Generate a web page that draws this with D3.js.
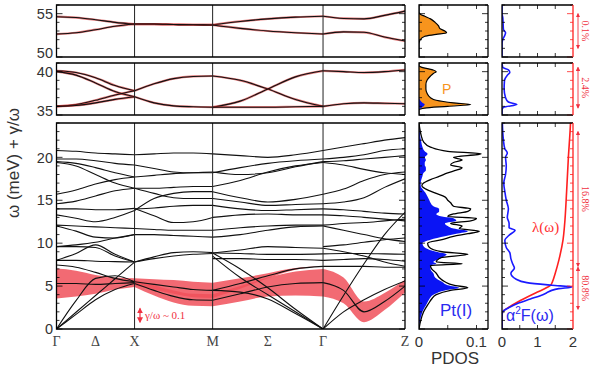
<!DOCTYPE html>
<html>
<head>
<meta charset="utf-8">
<script src="https://cdn.jsdelivr.net/npm/d3@7"></script>
<style>
  body { margin: 0; background: #fff; }
  svg { display: block; font-family: "Liberation Sans", Arial, sans-serif; }
</style>
</head>
<body>
<svg width="594" height="368"></svg>
<script>
// ---------- data ----------
// high-symmetry path, distances in units of 2pi/a
const kNodes = [0, 1, 2, 2 + Math.SQRT2, 2 + Math.SQRT2 + 1.05];
const kLabels = ["Γ", "Δ", "X", "M", "Σ", "Γ", "Z"];
const kLabelPos = [0, 0.5, 1, 2, 2 + Math.SQRT2 / 2, 2 + Math.SQRT2, 2 + Math.SQRT2 + 1.05];
// fractional positions along each segment where band energies are read
const tSamples = [0, 0.25, 0.5, 0.75, 1];

// phonon branches (meV) on each segment
const bandsGX = [
  [54.65, 54.55, 54.3, 54.0, 53.8], [52.65, 52.8, 53.15, 53.55, 53.8],
  [40.1, 39.9, 39.3, 38.4, 37.8], [40.0, 39.6, 38.7, 37.7, 37.1],
  [36.0, 36.2, 36.7, 37.3, 37.8], [36.0, 36.1, 36.4, 36.8, 37.1],
  [20.8, 20.7, 20.5, 20.4, 20.3], [19.8, 19.8, 19.6, 19.3, 19.1],
  [19.5, 19.3, 18.8, 18.2, 17.7], [19.4, 19.0, 18.0, 17.0, 16.4],
  [15.7, 16.2, 16.9, 17.4, 17.7], [14.6, 14.9, 15.5, 16.1, 16.4],
  [14.0, 14.0, 13.9, 13.9, 14.05], [13.3, 12.9, 12.5, 13.0, 13.8],
  [12.1, 12.0, 11.9, 11.8, 11.7], [12.0, 11.4, 10.7, 10.6, 11.0],
  [9.6, 9.8, 10.1, 10.6, 11.0], [8.0, 8.8, 9.8, 8.7, 7.8],
  [9.6, 9.6, 9.5, 8.5, 7.8], [8.0, 8.0, 7.9, 7.85, 7.8],
  [7.45, 7.2, 6.6, 5.9, 5.5], [5.3, 5.3, 5.2, 5.3, 5.4],
  [0, 3.3, 5.9, 6.2, 5.5], [0, 1.7, 3.4, 4.6, 5.3], [0, 1.95, 3.9, 5.85, 7.8]
];
const bandsXM = [
  [53.8, 53.8, 53.75, 53.72, 53.7], [53.8, 53.8, 53.75, 53.72, 53.7],
  [37.8, 38.6, 39.2, 39.45, 39.5], [37.1, 36.4, 36.05, 35.95, 35.9],
  [20.3, 20.4, 20.5, 20.5, 20.4], [19.1, 18.7, 18.3, 18.2, 18.2],
  [17.7, 17.9, 18.1, 18.2, 18.3], [16.4, 16.4, 16.5, 16.6, 16.6],
  [13.8, 15.2, 15.8, 16.0, 16.0], [16.4, 15.8, 15.3, 15.2, 15.2],
  [14.05, 13.2, 12.4, 12.5, 13.0], [14.0, 14.1, 14.3, 14.4, 14.4],
  [11.7, 11.6, 11.5, 11.5, 11.5], [11.0, 11.0, 10.9, 10.8, 10.7],
  [7.8, 8.4, 8.9, 9.0, 8.9], [7.8, 8.2, 8.5, 8.7, 8.8],
  [5.5, 5.2, 4.9, 4.6, 4.5], [5.3, 4.5, 3.8, 3.4, 3.35]
];
const bandsMG = [
  [53.7, 54.1, 54.4, 54.6, 54.7], [53.7, 53.3, 53.0, 52.8, 52.65],
  [39.5, 39.0, 38.0, 36.8, 36.0], [35.9, 36.6, 38.0, 39.4, 40.1],
  [35.9, 35.9, 35.9, 35.95, 36.0],
  [20.4, 20.2, 20.0, 20.3, 20.8], [18.2, 18.8, 19.3, 19.6, 19.8],
  [18.3, 18.0, 18.2, 18.9, 19.5], [16.6, 17.3, 18.3, 19.0, 19.4],
  [16.0, 15.3, 14.8, 15.1, 15.7], [15.2, 14.8, 14.4, 14.5, 14.6],
  [14.4, 14.0, 13.8, 13.9, 14.0], [13.0, 13.3, 13.4, 13.3, 13.3],
  [11.5, 11.8, 12.0, 12.1, 12.1], [10.7, 11.0, 11.5, 11.9, 12.0],
  [8.85, 9.2, 9.6, 9.5, 9.4], [8.85, 8.8, 8.7, 8.7, 8.75],
  [8.2, 8.2, 8.1, 8.1, 8.0], [8.85, 7.0, 4.8, 2.3, 0],
  [8.5, 6.0, 4.0, 2.0, 0], [4.5, 5.3, 6.2, 7.0, 7.3],
  [3.35, 4.1, 4.9, 5.3, 5.4], [4.5, 4.3, 3.5, 1.8, 0]
];
const bandsGZ = [
  [54.7, 54.45, 54.4, 54.8, 55.3], [52.65, 52.9, 52.85, 52.3, 51.85],
  [40.1, 40.0, 39.9, 40.0, 40.2], [36.0, 36.3, 36.4, 36.35, 36.3],
  [20.8, 21.2, 21.6, 22.0, 22.3], [19.8, 20.0, 20.3, 20.8, 21.0],
  [19.5, 19.6, 19.8, 20.0, 20.2], [19.4, 19.1, 18.6, 18.2, 18.0],
  [15.7, 16.3, 17.3, 18.0, 18.3], [14.6, 14.8, 15.3, 16.5, 17.5],
  [14.0, 13.9, 13.7, 13.5, 13.4], [13.3, 13.2, 13.0, 12.8, 12.6],
  [12.1, 12.3, 12.4, 12.6, 12.8], [12.0, 11.5, 11.0, 10.5, 10.2],
  [9.6, 9.8, 10.1, 10.4, 10.6], [9.4, 9.0, 8.5, 7.8, 7.3],
  [8.75, 8.8, 8.8, 8.75, 8.7], [8.0, 8.1, 8.2, 8.1, 7.9],
  [7.3, 7.3, 7.3, 7.2, 7.2], [5.4, 4.5, 2.0, 3.2, 5.0],
  [0, 3.9, 7.6, 11.0, 13.6], [0, 2.0, 3.4, 4.6, 5.6]
];
const segmentBands = [bandsGX, bandsXM, bandsMG, bandsGZ];

// phonon linewidth gamma/omega drawn as half-width (meV) around a branch
const fatBands = [
  { seg: 0, omega: [5.3, 5.3, 5.2, 5.3, 5.4], half: [1.75, 1.5, 1.1, 0.7, 0.5] },
  { seg: 1, omega: [5.5, 5.2, 4.9, 4.6, 4.5], half: [0.4, 0.6, 0.8, 0.9, 0.9] },
  { seg: 1, omega: [5.3, 4.5, 3.8, 3.4, 3.35], half: [0.4, 0.6, 0.7, 0.7, 0.7] },
  { seg: 2, omega: [3.35, 4.1, 4.9, 5.3, 5.4], half: [0.7, 0.9, 1.1, 1.4, 1.6] },
  { seg: 2, omega: [4.5, 5.3, 6.2, 7.0, 7.3], half: [0.9, 0.6, 0.3, 0.1, 0] },
  { seg: 3, omega: [5.4, 4.5, 2.0, 3.2, 5.0], half: [1.6, 1.5, 1.2, 1.0, 0.75] }
];

// projected DOS (states/meV)
const pdosTopW = [50, 51.5, 52.0, 52.4, 52.6, 52.8, 53.0, 53.3, 53.6, 54.0, 54.4, 54.7, 54.9, 55.2, 56];
const pdosTopP = [0, 0, 0.002, 0.01, 0.03, 0.048, 0.045, 0.036, 0.034, 0.028, 0.02, 0.01, 0.003, 0, 0];
const pdosMidW = [35, 35.6, 35.8, 36.0, 36.2, 36.4, 36.7, 37.0, 37.5, 38.0, 38.5, 39.0, 39.5, 39.8, 40.0, 40.2, 40.5, 40.7, 41];
const pdosMidP = [0, 0, 0.01, 0.05, 0.09, 0.06, 0.03, 0.02, 0.014, 0.012, 0.012, 0.014, 0.02, 0.025, 0.03, 0.024, 0.005, 0, 0];
const pdosMidPt = [0, 0, 0.004, 0.008, 0.01, 0.006, 0.002, 0, 0, 0, 0, 0, 0, 0, 0, 0, 0, 0, 0];
const pdosBotW = [0, 1, 2, 3, 3.5, 4, 4.5, 4.8, 5.1, 5.5, 6, 6.5, 7, 7.4, 7.6, 7.8, 8.3, 8.7, 9.0, 9.5,
  10, 10.4, 10.8, 11.1, 11.4, 11.7, 12.0, 12.3, 12.6, 12.9, 13.1, 13.4, 13.7, 14.0, 14.3, 14.7, 15.0, 15.4, 15.8,
  16.3, 16.7, 17.0, 17.4, 17.8, 18.2, 18.5, 18.8, 19.1, 19.4, 19.7, 20.0, 20.4, 20.7, 21.2, 21.8, 22.5, 23.5, 24];
const pdosBotTot = [0, 0.003, 0.008, 0.017, 0.022, 0.03, 0.055, 0.085, 0.06, 0.045, 0.035, 0.03, 0.022, 0.02, 0.075, 0.03, 0.038, 0.085, 0.04, 0.018,
  0.015, 0.04, 0.06, 0.085, 0.105, 0.07, 0.075, 0.055, 0.09, 0.1, 0.05, 0.06, 0.085, 0.09, 0.06, 0.055, 0.05, 0.045, 0.03,
  0.012, 0.005, 0.008, 0.02, 0.036, 0.05, 0.065, 0.075, 0.055, 0.06, 0.075, 0.06, 0.108, 0.05, 0.02, 0.008, 0.004, 0.001, 0];
const pdosBotPt = [0, 0.002, 0.006, 0.014, 0.018, 0.025, 0.045, 0.07, 0.05, 0.04, 0.028, 0.025, 0.02, 0.02, 0.03, 0.025, 0.04, 0.048, 0.03, 0.01,
  0.006, 0.02, 0.045, 0.065, 0.085, 0.06, 0.05, 0.045, 0.065, 0.06, 0.04, 0.03, 0.035, 0.035, 0.025, 0.02, 0.018, 0.015, 0.012,
  0.006, 0.003, 0.003, 0.004, 0.006, 0.008, 0.012, 0.012, 0.01, 0.01, 0.012, 0.01, 0.015, 0.01, 0.006, 0.004, 0.002, 0.001, 0];

// Eliashberg function and cumulative coupling
const a2fTopW = [50, 51.5, 52, 52.5, 52.8, 53.2, 54, 54.6, 55, 56];
const a2fTop = [0, 0, 0.02, 0.08, 0.1, 0.04, 0.03, 0.02, 0, 0];
const a2fMidW = [35, 35.6, 35.9, 36.2, 36.5, 37, 38, 39, 39.6, 39.9, 40.2, 40.5, 41];
const a2fMid = [0, 0, 0.05, 0.42, 0.18, 0.1, 0.06, 0.07, 0.15, 0.22, 0.18, 0.02, 0];
const a2fBotW = [0, 1.5, 2.0, 2.5, 3.0, 3.5, 4.0, 4.3, 4.5, 4.7, 4.9, 5.1, 5.4, 5.8, 6.5, 7.1, 7.6, 8.2, 8.9, 9.5,
  10.3, 11.0, 11.5, 11.8, 12.3, 13, 14, 15, 16, 17, 18, 19, 20, 20.5, 21, 22, 23, 24];
const a2fBot = [0, 0, 0.02, 0.2, 0.45, 0.8, 1.15, 1.3, 1.4, 1.6, 1.97, 1.4, 0.7, 0.4, 0.25, 0.35, 0.3, 0.25, 0.22, 0.12,
  0.08, 0.22, 0.37, 0.2, 0.2, 0.15, 0.18, 0.12, 0.08, 0.05, 0.1, 0.12, 0.1, 0.15, 0.08, 0.04, 0.02, 0.01];
const lambdaW = [0, 1.5, 2.0, 2.6, 3.0, 3.7, 4.3, 4.8, 5.1, 5.5, 6.5, 8, 10.4, 12, 16, 20, 23.2, 24];
const lambdaV = [0, 0, 0.02, 0.22, 0.38, 0.7, 1.0, 1.25, 1.37, 1.42, 1.5, 1.6, 1.72, 1.76, 1.82, 1.87, 1.92, 1.93];

// share of lambda from each frequency window
const lambdaShares = [
  { label: "0.1%", from: 51, to: 55 },
  { label: "2.4%", from: 35.8, to: 40.5 },
  { label: "16.8%", from: 23, to: 7.3 },
  { label: "80.8%", from: 7.2, to: 2.3 }
];

// ---------- layout ----------
const svg = d3.select("svg");
const panels = [
  { domain: [50, 56], top: 5, bottom: 57, labels: [50, 55] },
  { domain: [35, 41], top: 63, bottom: 115, labels: [35, 40] },
  { domain: [0, 24], top: 123, bottom: 329, labels: [0, 5, 10, 15, 20] }
];
panels.forEach(p => {
  p.y = d3.scaleLinear().domain(p.domain).range([p.bottom, p.top]);
});

const xBand = d3.scaleLinear().domain([0, kNodes[4]]).range([56.5, 405]);
const xDos = d3.scaleLinear().domain([0, 0.12]).range([419, 488]);
const xA2f = d3.scaleLinear().domain([0, 2]).range([502, 573]);

const red = "#f0505a";
const axisCol = "#333";

const defs = svg.append("defs");
panels.forEach((p, i) => {
  [["b", xBand], ["d", xDos], ["a", xA2f]].forEach(([key, xs]) => {
    defs.append("clipPath").attr("id", `clip-${key}${i}`)
      .append("rect")
      .attr("x", xs.range()[0]).attr("y", p.top)
      .attr("width", xs.range()[1] - xs.range()[0])
      .attr("height", p.bottom - p.top);
  });
});

// frame + inward ticks for one box
function drawFrame(xs, p, xTicks, rightColor) {
  const g = svg.append("g");
  const [x0, x1] = xs.range();
  d3.range(Math.ceil(p.domain[0]), p.domain[1] + 0.001, 1).forEach(v => {
    const len = v % 5 === 0 ? 6 : 3;
    const yy = p.y(v);
    g.append("line").attr("x1", x0).attr("x2", x0 + len).attr("y1", yy).attr("y2", yy)
      .attr("stroke", "#000").attr("stroke-width", 0.8);
    g.append("line").attr("x1", x1).attr("x2", x1 - len).attr("y1", yy).attr("y2", yy)
      .attr("stroke", rightColor || "#000").attr("stroke-width", 0.8);
  });
  xTicks.forEach(v => {
    const xx = xs(v);
    g.append("line").attr("x1", xx).attr("x2", xx).attr("y1", p.top).attr("y2", p.top + 4)
      .attr("stroke", "#000").attr("stroke-width", 0.8);
    g.append("line").attr("x1", xx).attr("x2", xx).attr("y1", p.bottom).attr("y2", p.bottom - 4)
      .attr("stroke", "#000").attr("stroke-width", 0.8);
  });
  g.append("path")
    .attr("d", `M${x1},${p.top}H${x0}V${p.bottom}H${x1}`)
    .attr("fill", "none").attr("stroke", "#000").attr("stroke-width", 1.3);
  g.append("line").attr("x1", x1).attr("x2", x1).attr("y1", p.top).attr("y2", p.bottom)
    .attr("stroke", rightColor || "#000").attr("stroke-width", 1.3);
}

// ---------- band structure ----------
function kAt(seg, t) {
  return kNodes[seg] + t * (kNodes[seg + 1] - kNodes[seg]);
}

panels.forEach((p, i) => {
  const g = svg.append("g").attr("clip-path", `url(#clip-b${i})`);

  // linewidth shading
  if (i === 2) {
    fatBands.forEach(f => {
      const area = d3.area()
        .x((d, j) => xBand(kAt(f.seg, tSamples[j])))
        .y0((d, j) => p.y(d - f.half[j]))
        .y1((d, j) => p.y(d + f.half[j]))
        .curve(d3.curveMonotoneX);
      g.append("path").attr("d", area(f.omega))
        .attr("fill", red).attr("fill-opacity", 0.85);
    });
  }

  segmentBands.forEach((bands, s) => {
    const line = d3.line()
      .x((d, j) => xBand(kAt(s, tSamples[j])))
      .y(d => p.y(d))
      .curve(d3.curveMonotoneX);
    bands.forEach(b => {
      if (i < 2) {
        g.append("path").attr("d", line(b)).attr("fill", "none")
          .attr("stroke", "#d02020").attr("stroke-width", 2.2).attr("stroke-opacity", 0.6);
      }
      g.append("path").attr("d", line(b)).attr("fill", "none")
        .attr("stroke", "#111").attr("stroke-width", 1.1);
    });
  });

  // high-symmetry verticals
  [1, 2, 3].forEach(n => {
    svg.append("line").attr("x1", xBand(kNodes[n])).attr("x2", xBand(kNodes[n]))
      .attr("y1", p.top).attr("y2", p.bottom).attr("stroke", "#222").attr("stroke-width", 1);
  });

  drawFrame(xBand, p, []);

  // left tick labels (bottom label of the two upper boxes sits just above the frame)
  p.labels.forEach((v, j) => {
    const lift = (i < 2 && j === 0) ? -4 : 0;
    svg.append("text").attr("x", 53).attr("y", p.y(v) + lift).attr("dy", "0.36em")
      .attr("text-anchor", "end").attr("font-size", 14.5).attr("fill", axisCol).text(v);
  });
});

// ---------- PDOS ----------
function vArea(xs, ys, w, v) {
  return d3.area()
    .y((d, j) => ys(w[j]))
    .x0(xs(0))
    .x1(d => xs(d))
    .curve(d3.curveMonotoneY)(v);
}
function vLine(xs, ys, w, v) {
  return d3.line()
    .y((d, j) => ys(w[j]))
    .x(d => xs(d))
    .curve(d3.curveMonotoneY)(v);
}

const orange = "#f7941d";
const blue = "#0a14f5";

// top
let gd = svg.append("g").attr("clip-path", "url(#clip-d0)");
gd.append("path").attr("d", vArea(xDos, panels[0].y, pdosTopW, pdosTopP)).attr("fill", orange);
gd.append("path").attr("d", vLine(xDos, panels[0].y, pdosTopW, pdosTopP)).attr("fill", "none").attr("stroke", "#000").attr("stroke-width", 1.2);
drawFrame(xDos, panels[0], [0.05, 0.1]);
// middle
gd = svg.append("g").attr("clip-path", "url(#clip-d1)");
gd.append("path").attr("d", vArea(xDos, panels[1].y, pdosMidW, pdosMidP)).attr("fill", orange);
gd.append("path").attr("d", vArea(xDos, panels[1].y, pdosMidW, pdosMidPt)).attr("fill", blue);
gd.append("path").attr("d", vLine(xDos, panels[1].y, pdosMidW, pdosMidP)).attr("fill", "none").attr("stroke", "#000").attr("stroke-width", 1.2);
drawFrame(xDos, panels[1], [0.05, 0.1]);
svg.append("text").attr("x", 442).attr("y", 94).attr("font-size", 14).attr("fill", orange).text("P");
// bottom
gd = svg.append("g").attr("clip-path", "url(#clip-d2)");
gd.append("path").attr("d", vArea(xDos, panels[2].y, pdosBotW, pdosBotPt)).attr("fill", blue);
gd.append("path").attr("d", vLine(xDos, panels[2].y, pdosBotW, pdosBotTot)).attr("fill", "none").attr("stroke", "#000").attr("stroke-width", 1.3);
drawFrame(xDos, panels[2], [0.05, 0.1]);
svg.append("text").attr("x", 440).attr("y", 316).attr("font-size", 17).attr("fill", "#2a2af0").text("Pt(I)");

// ---------- a2F and lambda ----------
[[a2fTopW, a2fTop], [a2fMidW, a2fMid], [a2fBotW, a2fBot]].forEach(([w, v], i) => {
  const ga = svg.append("g").attr("clip-path", `url(#clip-a${i})`);
  if (i === 2) {
    ga.append("path").attr("d", vLine(xA2f, panels[2].y, lambdaW, lambdaV))
      .attr("fill", "none").attr("stroke", "#ff2020").attr("stroke-width", 1.6);
  }
  ga.append("path").attr("d", vLine(xA2f, panels[i].y, w, v))
    .attr("fill", "none").attr("stroke", "#1a1aff").attr("stroke-width", 1.6);
  drawFrame(xA2f, panels[i], [0.5, 1, 1.5], "#ff2020");
});
svg.append("text").attr("x", 532).attr("y", 232).attr("font-size", 15)
  .attr("font-family", "Liberation Serif, serif").attr("fill", "#ff3030").text("λ(ω)");
const a2fLabel = svg.append("text").attr("x", 506).attr("y", 321).attr("font-size", 16).attr("fill", "#2a2af0");
a2fLabel.append("tspan").text("α");
a2fLabel.append("tspan").attr("dy", -7).attr("font-size", 10).text("2");
a2fLabel.append("tspan").attr("dy", 7).text("F(ω)");

// lambda share annotations
defs.append("marker").attr("id", "arr").attr("viewBox", "0 0 6 6").attr("refX", 5).attr("refY", 3)
  .attr("markerWidth", 5).attr("markerHeight", 5).attr("orient", "auto-start-reverse")
  .append("path").attr("d", "M0,0L6,3L0,6Z").attr("fill", "#f03040");
lambdaShares.forEach((s, i) => {
  const p = panels[Math.min(i, 2)];
  const y1 = p.y(s.from), y2 = p.y(s.to);
  svg.append("line").attr("x1", 578).attr("x2", 578).attr("y1", y1).attr("y2", y2)
    .attr("stroke", "#f03040").attr("stroke-width", 0.9)
    .attr("marker-start", "url(#arr)").attr("marker-end", "url(#arr)");
  const cy = (y1 + y2) / 2;
  svg.append("text").attr("transform", `translate(582,${cy}) rotate(90)`)
    .attr("text-anchor", "middle").attr("font-size", 10)
    .attr("font-family", "Liberation Serif, serif").attr("fill", "#f03040").text(s.label);
});

// ---------- axis labels ----------
kLabels.forEach((lab, i) => {
  svg.append("text").attr("x", xBand(kLabelPos[i])).attr("y", 346)
    .attr("text-anchor", "middle").attr("font-size", 14)
    .attr("font-family", "Liberation Serif, serif").attr("fill", "#444").text(lab);
});
[0, 0.1].forEach(v => {
  svg.append("text").attr("x", xDos(v)).attr("y", 347).attr("text-anchor", "middle")
    .attr("font-size", 15).attr("fill", axisCol).text(v);
});
[0, 1, 2].forEach(v => {
  svg.append("text").attr("x", xA2f(v)).attr("y", 347).attr("text-anchor", "middle")
    .attr("font-size", 15).attr("fill", axisCol).text(v);
});
svg.append("text").attr("x", 455).attr("y", 364).attr("text-anchor", "middle")
  .attr("font-size", 17).attr("fill", axisCol).text("PDOS");

svg.append("text").attr("transform", "translate(19,163) rotate(-90)")
  .attr("text-anchor", "middle").attr("font-size", 17).attr("fill", axisCol)
  .text("ω (meV) + γ/ω");

// gamma/omega scale bar
const barY = panels[2].y;
svg.append("line").attr("x1", 140).attr("x2", 140).attr("y1", barY(2.4)).attr("y2", barY(0.8))
  .attr("stroke", "#f03040").attr("stroke-width", 1.2)
  .attr("marker-start", "url(#arr)").attr("marker-end", "url(#arr)");
svg.append("text").attr("x", 145).attr("y", barY(1.6)).attr("dy", "0.35em").attr("font-size", 11)
  .attr("font-family", "Liberation Serif, serif").attr("fill", "#f03040").text("γ/ω ~ 0.1");
</script>
</body>
</html>
